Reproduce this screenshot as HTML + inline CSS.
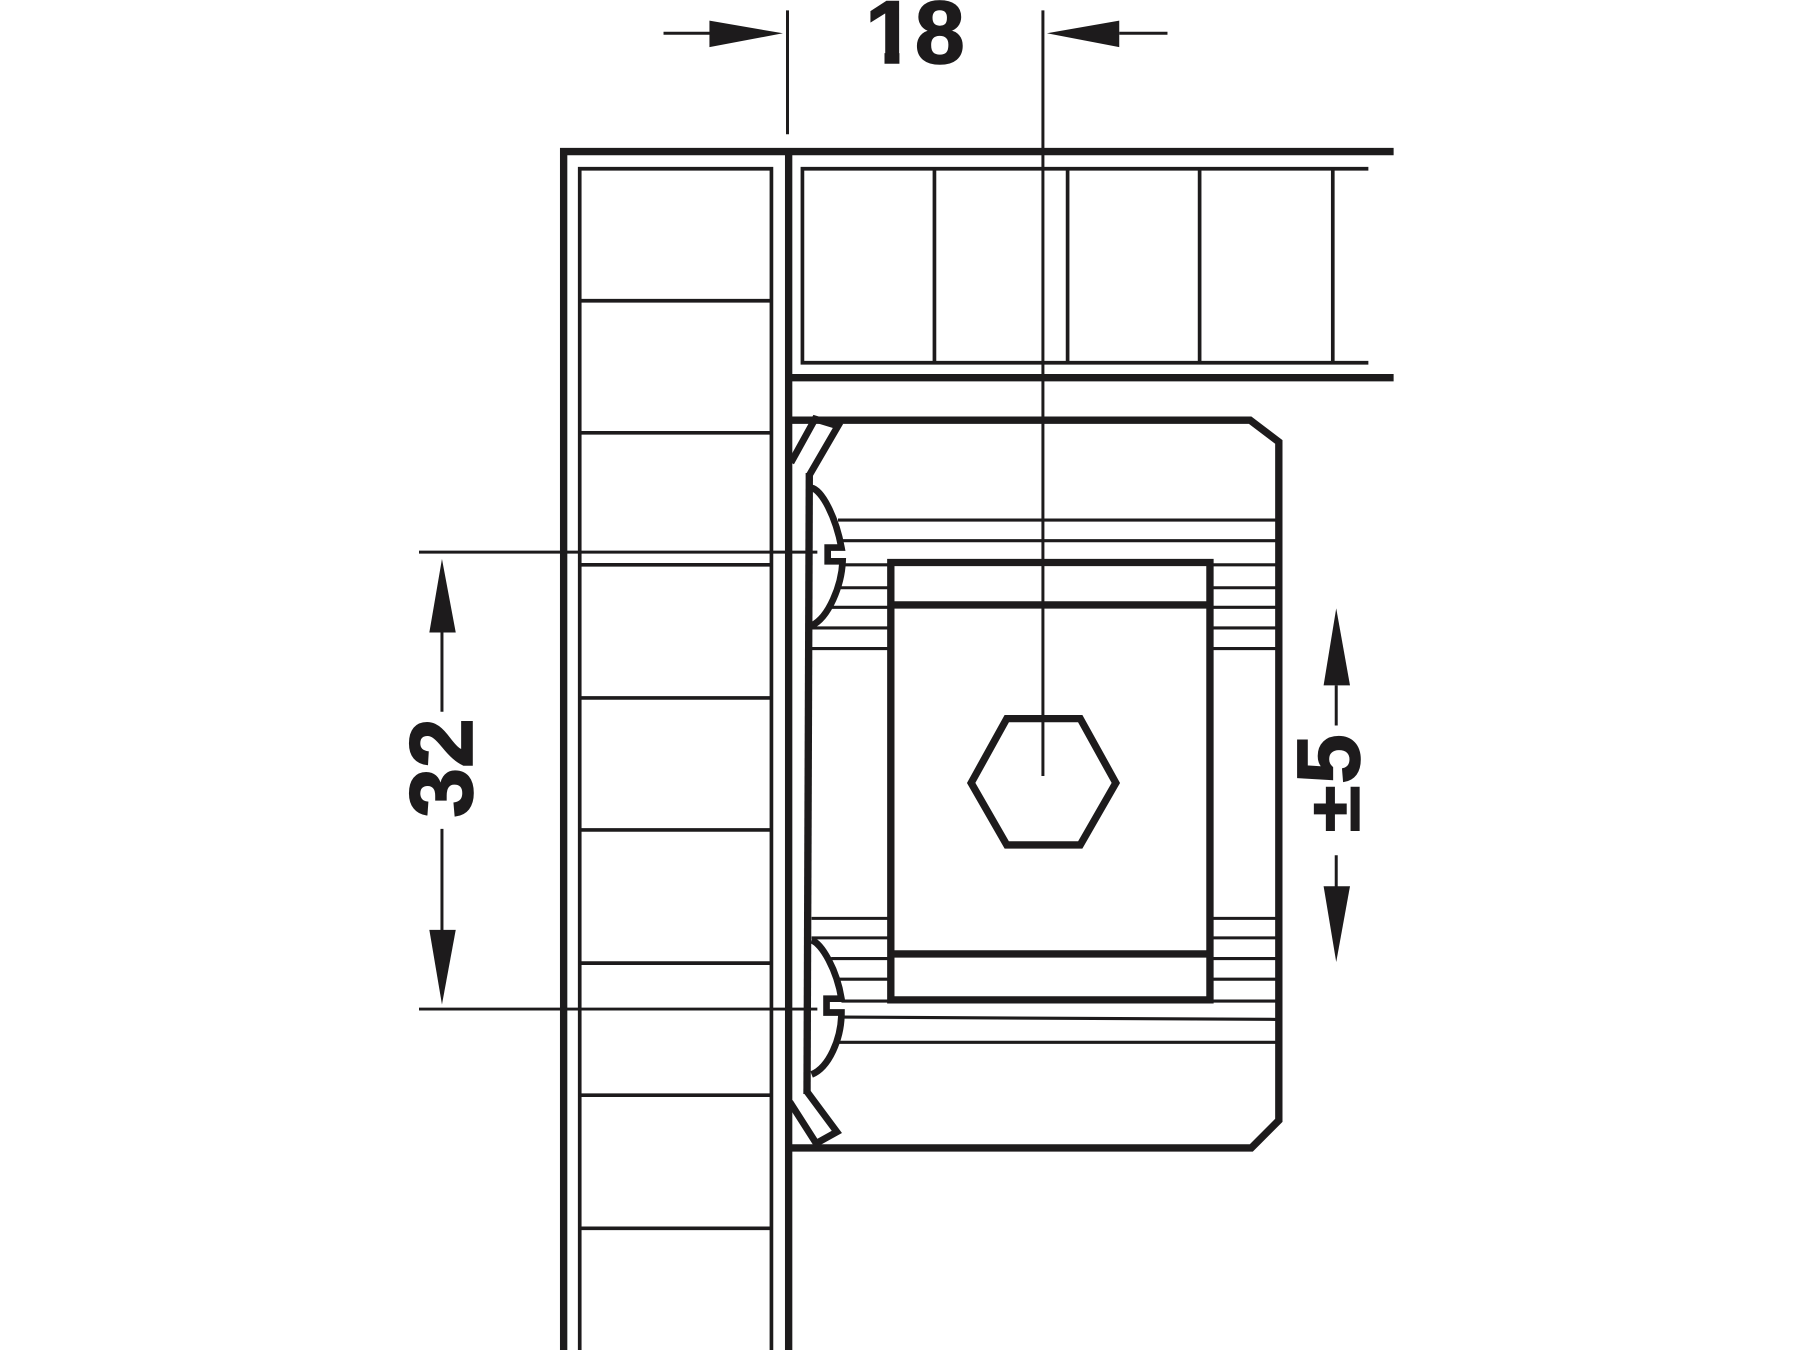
<!DOCTYPE html>
<html><head><meta charset="utf-8"><style>
html,body{margin:0;padding:0;background:#fff;width:1800px;height:1350px;overflow:hidden}
svg{display:block}
text{font-family:"Liberation Sans",sans-serif;font-weight:bold;font-size:78px;fill:#1d1b1c;stroke:#1d1b1c;stroke-width:1.4px}
</style></head><body>
<svg width="1800" height="1350" viewBox="0 0 1568 1176" xmlns="http://www.w3.org/2000/svg">
<g fill="none" stroke="#1d1b1c" stroke-linejoin="miter">
<!-- thick walls -->
<g stroke-width="6.4">
<path d="M491 1180V132H1214"/>
<path d="M687 132V1180"/>
<path d="M687 329H1214"/>
<path d="M687 366H1089L1114 385V976L1090 1000H687"/>
<path d="M776 490H1054V871H776Z"/>
<path d="M776 527H1054M776 831H1054"/>
<path d="M877 626H941L972 682L941 736H877L846 682Z"/>
</g>
<!-- inner panels -->
<g stroke-width="3.2">
<path d="M505 1180V147H672V1180"/>
<path d="M505 262H672M505 377H672M505 492H672M505 608H672M505 723H672M505 839H672M505 954H672M505 1070H672"/>
<path d="M1192 147H699V316H1192"/>
<path d="M814 147V316M930 147V316M1045 147V316M1161 147V316"/>
</g>
<!-- stripes -->
<g stroke-width="2.7">
<path d="M730 453H1112M733 471H1112"/>
<path d="M733 492H776M1054 492H1112M730 512H776M1054 512H1112M724 529H776M1054 529H1112M707 547H776M1054 547H1112M707 565H776M1054 565H1112"/>
<path d="M707 800H776M1054 800H1112M707 817H776M1054 817H1112M724 835H776M1054 835H1112M731 853H776M1054 853H1112"/>
<path d="M733 872H1112M733 886L1112 888M730 908H1112"/>
</g>
<!-- clip -->
<path stroke-width="6" d="M689 403L710 365L730 371L705 414"/>
<path stroke-width="6.4" d="M705 412L703 953"/>
<path stroke-width="6" d="M703 951L729 986L711 996L688 960"/>
<g stroke-width="5.8">
<path d="M707 425C716 427 728 450 733 477L721 477V489L734 489C733 510 722 538 707 545"/>
<path d="M707 819C716 822 729 845 733 870L720 870V882L733 882C733 905 722 930 707 936"/>
</g>
<!-- dimension lines -->
<g stroke-width="2.6">
<path d="M686 9V117M908.500 9V676"/>
<path d="M365 481H712M365 879H712"/>
<path d="M578 29H620M1017 29H975"/>
<path d="M385 551V620M385 722V812"/>
<path d="M1164 597V632M1164 745V774"/>
</g>
</g>
<g fill="#1d1b1c">
<path d="M682 29L618 18V41Z"/>
<path d="M912 29L975 18V41Z"/>
<path d="M385 487L374 551H397Z"/>
<path d="M385 875L374 810H397Z"/>
<path d="M1164 530L1153 597H1176Z"/>
<path d="M1164 838L1153 772H1176Z"/>
</g>
<text x="797" y="55" text-anchor="middle">18</text>
<rect x="750" y="45" width="20.500" height="13" fill="#fff"/>
<rect x="783.500" y="45" width="12.500" height="13" fill="#fff"/>
<text transform="translate(411 669) rotate(-90)" text-anchor="middle">32</text>
<text transform="translate(1184 683) rotate(-90)">5</text>
<text transform="translate(1184 725) rotate(-90) scale(.95,.8)">±</text>
</svg>
</body></html>
